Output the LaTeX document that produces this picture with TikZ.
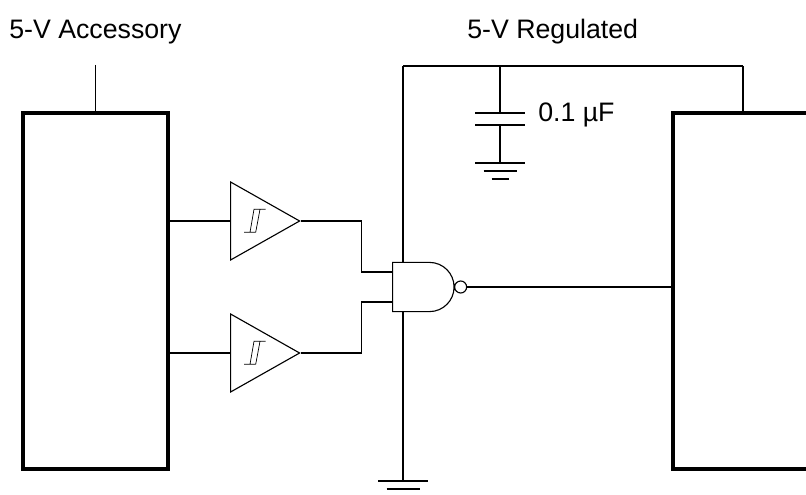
\documentclass[tikz,border=0pt]{standalone}
\usepackage{fontspec}
\setmainfont{Liberation Sans}
\usetikzlibrary{shapes.geometric}
\usetikzlibrary{shapes.gates.logic.US}
\tikzset{
wire/.style={line width=1.3pt},
supply/.style={line width=1.0pt},
block/.style={shape=rectangle, draw=black, line width=2.5pt, inner sep=0pt},
buffer/.style={shape=isosceles triangle, draw=black, line width=0.8pt, inner sep=0pt, isosceles triangle stretches=true, minimum width=1.95cm, minimum height=1.725cm, anchor=lower side},
gate/.style={nand gate US, draw=black, line width=0.8pt, inner sep=0pt, logic gate inputs=nn, logic gate input sep=0.41cm, logic gate inverted radius=0.15cm, anchor=west},
lbl/.style={font=\fontsize{19}{22}\selectfont, inner sep=0pt, anchor=base west}
}
\newcommand{\hystglyph}[1]{
    \draw[line width=0.5pt, shift={(#1.lower side)}] (14,-11.3) -- (25.7,-11.3) (20,-11.3) -- (24,11.7) -- (35.7,11.7) (25.7,-11.3) -- (30,11.7);
}

\begin{document}
\begin{tikzpicture}[x=0.025cm, y=0.025cm]
    \useasboundingbox (0,0) rectangle (806,494);

    \node[lbl] (AccLabel) at (9,455) {5-V Accessory};
    \node[lbl] (RegLabel) at (467,455) {5-V Regulated};
    \node[lbl] (CapLabel) at (538,372) {0.1 µF};

    \node[block, minimum width=3.625cm, minimum height=8.9cm] (Acc) at (95.5,203) {};
    \node[block, minimum width=6cm, minimum height=8.9cm, anchor=west] (Reg) at (671,203) {};
    \node[buffer] (BufA) at (230,273) {};
    \node[buffer] (BufB) at (230,141) {};
    \node[gate] (Nand) at (392,207) {};

    \hystglyph{BufA}
    \hystglyph{BufB}

    \coordinate (AccTop) at (95.5,429);
    \coordinate (RailL) at (403,428);
    \coordinate (RailC) at (500,428);
    \coordinate (RailR) at (743,428);
    \coordinate (CapA) at (500,381);
    \coordinate (CapB) at (500,369);
    \coordinate (GndC) at (500,331);
    \coordinate (GndN) at (403,13);
    \coordinate (InA) at ([yshift=0.38cm]Nand.west);
    \coordinate (InB) at ([yshift=-0.38cm]Nand.west);

    \draw[supply] (AccTop) -- (AccTop |- Acc.north);
    \draw[wire] (RailL) -- (RailR);
    \draw[supply] (RailR) -- (RailR |- Reg.north);
    \draw[supply] (RailL) -- (RailL |- Nand.north);
    \draw[supply] (RailL |- Nand.south) -- (GndN);
    \draw[supply] (RailC) -- (CapA);
    \draw[supply] (CapB) -- (GndC);

    \draw[wire] (CapA) ++(-25,0) -- ++(50,0);
    \draw[wire] (CapB) ++(-25,0) -- ++(50,0);
    \draw[wire] (GndC) ++(-25,0) -- ++(50,0);
    \draw[wire] (GndC) ++(-16.5,-8) -- ++(33,0);
    \draw[wire] (GndC) ++(-8.5,-16) -- ++(17,0);
    \draw[wire] (GndN) ++(-25,0) -- ++(50,0);
    \draw[wire] (GndN) ++(-16.5,-8) -- ++(33,0);

    \draw[wire] (BufA.lower side -| Acc.east) -- (BufA.lower side);
    \draw[wire] (BufB.lower side -| Acc.east) -- (BufB.lower side);
    \draw[wire] (BufA.apex) -- ++(60.5,0) |- (InA);
    \draw[wire] (BufB.apex) -- ++(60.5,0) |- (InB);
    \draw[wire] (Nand.output) -- (Nand.output -| Reg.west);
\end{tikzpicture}
\end{document}
